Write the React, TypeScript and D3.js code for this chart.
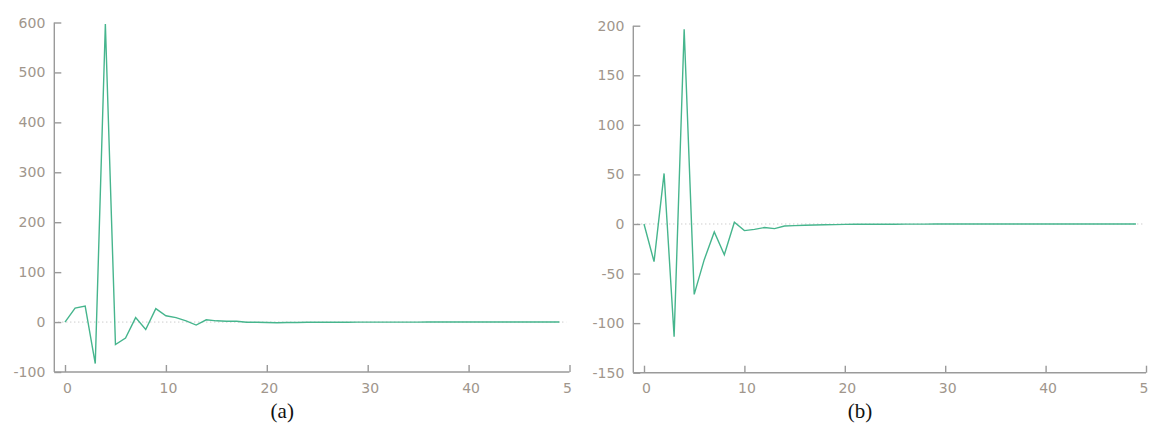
import React, { useRef, useEffect } from 'react';
import * as d3 from 'd3';

// sample index 0..49
const steps = d3.range(0, 50);

// panel (a) values
const seriesA = [
  0, 28, 32, -83, 597, -45, -32, 9, -15, 27,
  12.6, 9, 2.5, -6, 4.5, 2.5, 1.5, 1.5, -0.5, -0.5,
  -1, -1.5, -1, -1, -0.5, -0.5, -0.5, -0.3, -0.3, -0.2,
  -0.2, -0.2, -0.1, -0.1, -0.1, -0.1, 0, 0, 0, 0,
  0, 0, 0, 0, 0, 0, 0, 0, 0, 0,
];

// panel (b) values
const seriesB = [
  0, -38, 51, -113.6, 196.5, -71, -36, -8, -31, 1.7,
  -6.7, -5.4, -3.6, -4.7, -2, -1.7, -1.3, -1, -0.7, -0.6,
  -0.4, -0.3, -0.3, -0.3, -0.2, -0.2, -0.1, -0.1, -0.1, 0,
  0, 0, 0, 0, 0, 0, 0, 0, 0, 0,
  0, 0, 0, 0, 0, 0, 0, 0, 0, 0,
];

const xTicks = [0, 10, 20, 30, 40, 50];
const yTicksA = [-100, 0, 100, 200, 300, 400, 500, 600];
const yTicksB = [-150, -100, -50, 0, 50, 100, 150, 200];
const captions = ['(a)', '(b)'];

const LINE = '#46b58d';
const AXIS = '#9a9a9a';
const LABEL = '#a0968c';

const drawPanel = (g, values, yTicks, x0, x1, y0, y1, caption, clipId) => {
  const xScale = d3.scaleLinear().domain([0, 50]).range([x0, x1]);
  const yScale = d3.scaleLinear()
    .domain([yTicks[0], yTicks[yTicks.length - 1]])
    .range([y0, y1]);
  const axisX = x0 - 10.7;

  const panel = g.append('g').attr('clip-path', clipId ? `url(#${clipId})` : null);

  // zero reference
  panel.append('line')
    .attr('x1', axisX + 4).attr('x2', xScale(49.7))
    .attr('y1', yScale(0)).attr('y2', yScale(0))
    .attr('stroke', '#b8b8b8')
    .attr('stroke-width', 1)
    .attr('stroke-dasharray', '1,3');

  // y axis
  const yAxis = panel.append('g')
    .attr('transform', `translate(${axisX},0)`)
    .call(d3.axisRight(yScale).tickValues(yTicks).tickSize(7).tickSizeOuter(0).tickFormat(() => ''));
  yAxis.selectAll('path, line').attr('stroke', AXIS).attr('stroke-width', 1.4);
  yAxis.select('.domain').attr('d', `M0,${yScale(yTicks[yTicks.length - 1])}V${y0}`);

  panel.selectAll('.ylab')
    .data(yTicks)
    .enter().append('text')
    .attr('x', axisX - 9)
    .attr('y', d => yScale(d))
    .attr('dy', '0.36em')
    .attr('text-anchor', 'end')
    .attr('font-family', 'DejaVu Sans, Verdana, sans-serif')
    .attr('font-size', 14)
    .attr('fill', LABEL)
    .text(d => d);

  // x axis
  const xAxis = panel.append('g')
    .attr('transform', `translate(0,${y0})`)
    .call(d3.axisTop(xScale).tickValues(xTicks).tickSize(7).tickSizeOuter(0).tickFormat(() => ''));
  xAxis.selectAll('path, line').attr('stroke', AXIS).attr('stroke-width', 1.4);
  xAxis.select('.domain').attr('d', `M${axisX},0H${x1}`);

  panel.selectAll('.xlab')
    .data(xTicks)
    .enter().append('text')
    .attr('x', d => xScale(d) + 2.5)
    .attr('y', y0 + 20.5)
    .attr('text-anchor', 'middle')
    .attr('font-family', 'DejaVu Sans, Verdana, sans-serif')
    .attr('font-size', 14)
    .attr('fill', LABEL)
    .text(d => d);

  // series
  const line = d3.line()
    .x((d, i) => xScale(steps[i]))
    .y(d => yScale(d));

  panel.append('path')
    .datum(values)
    .attr('d', line)
    .attr('fill', 'none')
    .attr('stroke', LINE)
    .attr('stroke-width', 1.4)
    .attr('stroke-linejoin', 'miter');

  g.append('text')
    .attr('x', (x0 + x1) / 2 - 35)
    .attr('y', 418)
    .attr('text-anchor', 'middle')
    .attr('font-family', 'Liberation Serif, Times New Roman, serif')
    .attr('font-size', 21)
    .attr('fill', '#111')
    .text(caption);
};

const App = () => {
  const ref = useRef(null);

  useEffect(() => {
    const svg = d3.select(ref.current)
      .attr('width', 1149)
      .attr('height', 425);

    svg.selectAll('*').remove();

    svg.append('defs').append('clipPath')
      .attr('id', 'clipA')
      .append('rect')
      .attr('x', 0).attr('y', 0)
      .attr('width', 572).attr('height', 425);

    const g = svg.append('g');
    drawPanel(g, seriesA, yTicksA, 65, 569.5, 372, 22.5, captions[0], 'clipA');
    drawPanel(g, seriesB, yTicksB, 644, 1146, 372.7, 25.7, captions[1], null);
  }, []);

  return (
    <svg
      ref={ref}
      style={{ position: 'absolute', left: 0, top: 0, background: '#fff', display: 'block' }}
    ></svg>
  );
};

export default App;
